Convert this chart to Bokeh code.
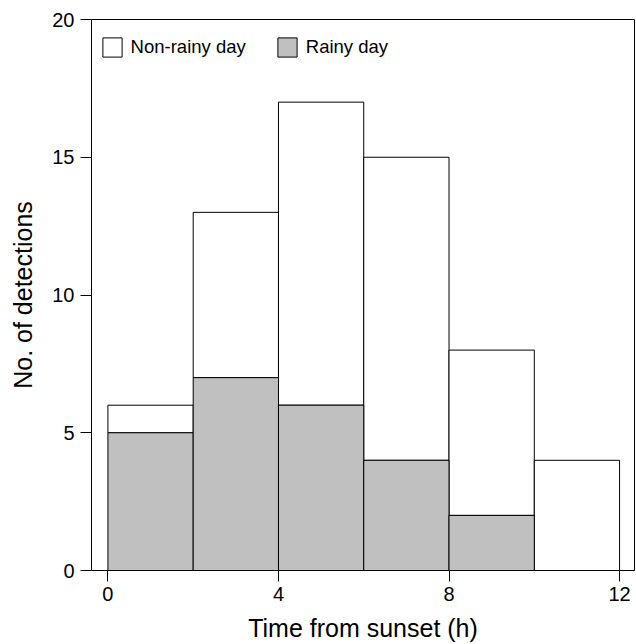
from bokeh.plotting import figure
from bokeh.models import Range1d, FixedTicker, Legend, LegendItem, ColumnDataSource
from bokeh.embed import file_html
from bokeh.resources import INLINE

bin_left = [0, 2, 4, 6, 8, 10]
bin_right = [2, 4, 6, 8, 10, 12]
rainy = [5, 7, 6, 4, 2, 0]
non_rainy = [1, 6, 11, 11, 6, 4]
total = [r + n for r, n in zip(rainy, non_rainy)]
x_ticks = [0, 4, 8, 12]
y_ticks = [0, 5, 10, 15, 20]

FONT = "Liberation Sans"

p = figure(width=636, height=644, output_backend="svg", toolbar_location=None,
           x_range=Range1d(-0.385, 12.35), y_range=Range1d(0, 20),
           min_border_left=91, min_border_right=2, min_border_top=19, min_border_bottom=74)

src = ColumnDataSource(dict(left=bin_left, right=bin_right, rainy=rainy, total=total,
                            zero=[0] * len(rainy)))
r_non = p.quad(left="left", right="right", bottom="rainy", top="total", source=src,
               fill_color="white", line_color="black", line_width=1)
r_rain = p.quad(left="left", right="right", bottom="zero", top="rainy", source=src,
                fill_color="#c0c0c0", line_color="black", line_width=1)

p.xgrid.visible = False
p.ygrid.visible = False
p.outline_line_color = "black"
p.outline_line_width = 1
p.background_fill_color = "white"
p.border_fill_color = "white"

for ax in (p.xaxis[0], p.yaxis[0]):
    ax.major_tick_out = 11
    ax.major_tick_in = 0
    ax.minor_tick_line_color = None
    ax.major_tick_line_color = "black"
    ax.axis_line_color = "black"
    ax.major_label_text_font = FONT
    ax.major_label_text_font_size = "20px"
    ax.major_label_text_color = "black"
    ax.axis_label_text_font = FONT
    ax.axis_label_text_font_size = "25px"
    ax.axis_label_text_font_style = "normal"
    ax.axis_label_text_color = "black"

p.xaxis[0].ticker = FixedTicker(ticks=x_ticks)
p.yaxis[0].ticker = FixedTicker(ticks=y_ticks)
p.xaxis[0].axis_label = "Time from sunset (h)"
p.yaxis[0].axis_label = "No. of detections"
p.xaxis[0].major_label_standoff = 5
p.yaxis[0].major_label_standoff = 6
p.xaxis[0].axis_label_standoff = 10
p.yaxis[0].axis_label_standoff = 12

legend = Legend(items=[LegendItem(label="Non-rainy day", renderers=[r_non]),
                       LegendItem(label="Rainy day", renderers=[r_rain])],
                orientation="horizontal", location=(8.6, 511.4),
                glyph_width=24, glyph_height=24, label_height=24,
                label_standoff=7, spacing=29, padding=0, margin=0,
                border_line_color=None, background_fill_alpha=0,
                label_text_font=FONT, label_text_font_size="18.5px",
                label_text_color="black")
p.add_layout(legend, "center")

open("out.html", "w").write(file_html(p, INLINE))
